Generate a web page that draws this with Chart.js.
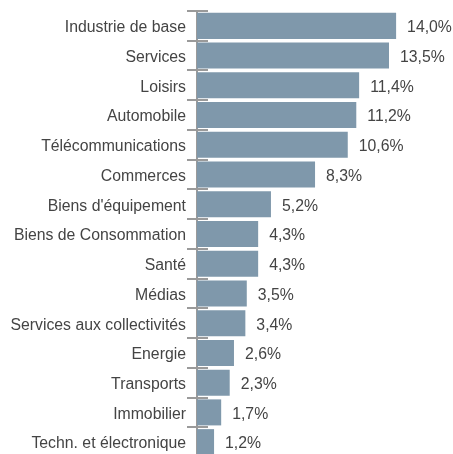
<!DOCTYPE html>
<html>
<head>
<meta charset="utf-8">
<script src="https://cdn.jsdelivr.net/npm/chart.js@4"></script>
<style>
  html, body { margin: 0; padding: 0; background: #fff; overflow: hidden; }
  #wrap { width: 453px; height: 457px; }
</style>
</head>
<body>
<div id="wrap"><canvas id="grafico"></canvas></div>
<script>
const secteurs = ["Industrie de base", "Services", "Loisirs", "Automobile", "Télécommunications",
  "Commerces", "Biens d'équipement", "Biens de Consommation", "Santé", "Médias",
  "Services aux collectivités", "Energie", "Transports", "Immobilier", "Techn. et électronique"];
const poids = [14.0, 13.5, 11.4, 11.2, 10.6, 8.3, 5.2, 4.3, 4.3, 3.5, 3.4, 2.6, 2.3, 1.7, 1.2];

const fonte = "'Liberation Sans', Arial, sans-serif";

// petites marques de part et d'autre de l'axe, aux limites des catégories
const marques = {
  id: 'marques',
  afterDraw(chart) {
    const y = chart.scales.y;
    const ctx = chart.ctx;
    const x0 = chart.chartArea.left;
    ctx.save();
    ctx.strokeStyle = '#9a9a9a';
    ctx.lineWidth = 2;
    for (let i = 0; i <= secteurs.length; i++) {
      const py = Math.round(y.getPixelForValue(i - 0.5));
      ctx.beginPath();
      ctx.moveTo(x0 - 10, py);
      ctx.lineTo(x0 + 11, py);
      ctx.stroke();
    }
    ctx.restore();
  }
};

// valeurs au bout des barres
const valeurs = {
  id: 'valeurs',
  afterDatasetsDraw(chart) {
    const ctx = chart.ctx;
    const meta = chart.getDatasetMeta(0);
    ctx.save();
    ctx.font = '15.8px ' + fonte;
    ctx.fillStyle = '#444444';
    ctx.textAlign = 'left';
    ctx.textBaseline = 'middle';
    meta.data.forEach((bar, i) => {
      const txt = poids[i].toFixed(1).replace('.', ',') + '%';
      ctx.fillText(txt, bar.x + 11, bar.y + 2);
    });
    ctx.restore();
  }
};

new Chart(document.getElementById('grafico'), {
  type: 'bar',
  data: {
    labels: secteurs,
    datasets: [{
      data: poids,
      backgroundColor: '#7f98ab',
      borderWidth: 0,
      barPercentage: 0.875,
      categoryPercentage: 1
    }]
  },
  options: {
    indexAxis: 'y',
    responsive: true,
    maintainAspectRatio: false,
    animation: false,
    layout: { padding: { top: 11, left: 0, right: 0, bottom: 0 } },
    plugins: { legend: { display: false }, tooltip: { enabled: false } },
    scales: {
      x: { display: false, min: 0, max: 18 },
      y: {
        afterFit: s => { s.width = 197; s.paddingTop = 0; s.paddingBottom = 0; },
        grid: { display: false, drawTicks: false },
        border: { display: true, color: '#9a9a9a', width: 2 },
        ticks: {
          padding: 11,
          labelOffset: 2,
          color: '#444444',
          font: { family: fonte, size: 15.8 }
        }
      }
    }
  },
  plugins: [marques, valeurs]
});
</script>
</body>
</html>
